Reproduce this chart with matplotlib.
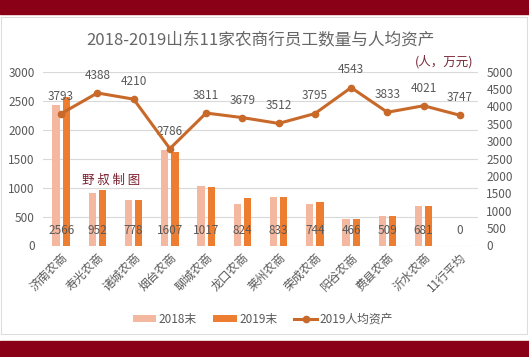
import numpy as np
import matplotlib.pyplot as plt
from matplotlib.patches import Rectangle

plt.rcParams['font.family'] = ['Noto Sans CJK SC', 'DejaVu Sans']

# Data
BANKS = ["济南农商", "寿光农商", "诸城农商", "烟台农商", "聊城农商", "龙口农商",
         "莱州农商", "荣成农商", "阳谷农商", "费县农商", "沂水农商", "11行平均"]
STAFF_2018 = [2430, 905, 782, 1650, 1020, 714, 843, 714, 460, 507, 679, 0]
STAFF_2019 = [2566, 952, 778, 1607, 1017, 824, 833, 744, 466, 509, 681, 0]
ASSET_PER_HEAD = [3793, 4388, 4210, 2786, 3811, 3679, 3512, 3795, 4543, 3833, 4021, 3747]

LEFT_TICKS = [0, 500, 1000, 1500, 2000, 2500, 3000]
RIGHT_TICKS = [0, 500, 1000, 1500, 2000, 2500, 3000, 3500, 4000, 4500, 5000]

C18 = "#F4B7A0"
C19 = "#ED7D31"
CLINE = "#C8692A"
GRAY = "#595959"
DARKRED = "#8A0016"

fig = plt.figure(figsize=(5.29, 3.57), dpi=100)

# frame: red bands + white panel (behind the axes)
fig.patches.append(Rectangle((0, 1 - 14 / 357), 1, 14 / 357, transform=fig.transFigure,
                             color=DARKRED, zorder=-10))
fig.patches.append(Rectangle((0, 0), 1, 16 / 357, transform=fig.transFigure,
                             color=DARKRED, zorder=-10))
fig.patches.append(Rectangle((0.002, 23 / 357), 0.994, 317 / 357, transform=fig.transFigure,
                             facecolor="white", edgecolor="#DDDDDD", lw=0.8, zorder=-10))

ax = fig.add_axes([43 / 529, 1 - 245.5 / 357, 435 / 529, (245.5 - 71.7) / 357])
ax.set_facecolor("none")
x = np.arange(len(BANKS))
w = 0.2
ax.bar(x - 0.14, STAFF_2018, w, color=C18, label="2018末", zorder=2)
ax.bar(x + 0.14, STAFF_2019, w, color=C19, label="2019末", zorder=2)
for xi, v in zip(x, STAFF_2019):
    ax.text(xi, 260, f"{v}", ha="center", va="center", fontsize=8.5, color=GRAY, zorder=5)

ax.set_xlim(-0.5, len(BANKS) - 0.5)
ax.set_ylim(0, 3000)
ax.set_yticks(LEFT_TICKS)
ax.grid(axis="y", color="#D9D9D9", lw=0.8, zorder=0)
ax.set_axisbelow(True)
for s in ax.spines.values():
    s.set_visible(False)
ax.tick_params(axis="both", length=0, labelsize=8.5, colors=GRAY, pad=6)
ax.set_xticks(x)
ax.set_xticklabels(BANKS, rotation=45, ha="right", rotation_mode="anchor", fontsize=8.5)
ax.tick_params(axis="x", pad=4)

ax2 = ax.twinx()
ax2.plot(x, ASSET_PER_HEAD, color=CLINE, lw=2.2, marker="o", ms=4.5, label="2019人均资产", zorder=4)
for xi, v in zip(x, ASSET_PER_HEAD):
    ax2.annotate(f"{v}", (xi, v), xytext=(0, 8), textcoords="offset points",
                 ha="center", va="bottom", fontsize=8.5, color=GRAY)
ax2.set_ylim(0, 5000)
ax2.set_yticks(RIGHT_TICKS)
for s in ax2.spines.values():
    s.set_visible(False)
ax2.tick_params(axis="y", length=0, labelsize=8.5, colors=GRAY, pad=6)

fig.text(0.492, 1 - 41 / 357, "2018-2019山东11家农商行员工数量与人均资产",
         ha="center", va="center", fontsize=12, color="#666666")
fig.text(0.84, 1 - 62 / 357, "(人，万元)", ha="center", va="center", fontsize=9, color="#7A2A3A")
fig.text(0.155, 1 - 180 / 357, "野 叔 制 图", ha="left", va="center", fontsize=9,
         color="#7A1F2E")

h1, l1 = ax.get_legend_handles_labels()
h2, l2 = ax2.get_legend_handles_labels()
fig.legend(h1 + h2, l1 + l2, loc="center", bbox_to_anchor=(0.497, 1 - 319 / 357), ncol=3,
           frameon=False, fontsize=8.5, labelcolor=GRAY, handlelength=2.0, columnspacing=1.4,
           handleheight=0.5, handletextpad=0.2)

fig.savefig("out.png", dpi=100)
